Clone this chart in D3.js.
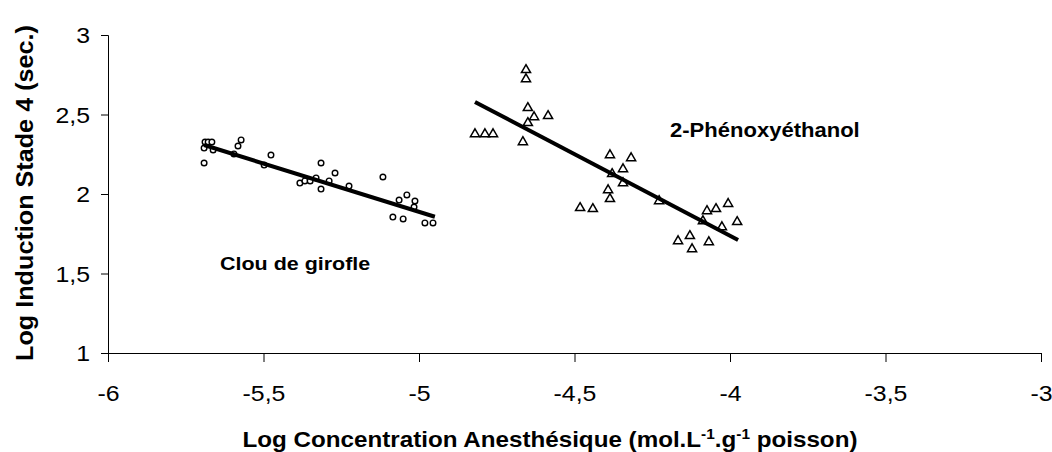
<html>
<head>
  <meta charset="utf-8">
  <title>Log induction vs log concentration</title>
  <script src="https://d3js.org/d3.v7.min.js"></script>
  <style>
    body { margin: 0; background: #fff; }
    text { font-family: "Liberation Sans", Arial, sans-serif; fill: #000; }
  </style>
</head>
<body>
<script>

// Clou de girofle (circles)
var clouX = [-5.688, -5.678, -5.666, -5.691, -5.662, -5.691, -5.572, -5.582, -5.595, -5.476,
             -5.498, -5.383, -5.367, -5.350, -5.331, -5.315, -5.315, -5.289, -5.270, -5.225,
             -5.116, -5.064, -5.039, -5.013, -5.016, -5.084, -5.051, -4.981, -4.955];
var clouY = [2.327, 2.327, 2.327, 2.289, 2.277, 2.195, 2.340, 2.302, 2.252, 2.245,
             2.182, 2.069, 2.082, 2.082, 2.101, 2.195, 2.031, 2.082, 2.132, 2.050,
             2.107, 1.962, 1.994, 1.956, 1.918, 1.855, 1.843, 1.818, 1.818];
var clouFitX = [-5.691, -4.949];
var clouFitY = [2.308, 1.857];

// 2-Phénoxyéthanol (triangles)
var phenX = [-4.656, -4.656, -4.650, -4.630, -4.585, -4.650, -4.820, -4.788, -4.762, -4.666,
             -4.386, -4.318, -4.344, -4.379, -4.344, -4.392, -4.386, -4.482, -4.441, -4.228,
             -4.074, -4.045, -4.006, -3.977, -4.087, -4.026, -4.167, -4.129, -4.122, -4.068];
var phenY = [2.780, 2.723, 2.541, 2.484, 2.491, 2.447, 2.377, 2.377, 2.377, 2.327,
             2.245, 2.226, 2.157, 2.126, 2.069, 2.025, 1.969, 1.912, 1.906, 1.956,
             1.893, 1.906, 1.938, 1.824, 1.830, 1.792, 1.704, 1.736, 1.654, 1.698];
var phenFitX = [-4.820, -3.974];
var phenFitY = [2.579, 1.711];

var xTicks = [-6, -5.5, -5, -4.5, -4, -3.5, -3];
var yTicks = [1, 1.5, 2, 2.5, 3];

var width = 1052,
    height = 452;

var stretch = 1.13;  // text in the picture is a bit wide

var x = d3.scaleLinear().domain([-6, -3]).range([108, 1041]),
    y = d3.scaleLinear().domain([1, 3]).range([353, 35]);

var comma = function(d) { return String(d).replace(".", ","); };

var svg = d3.select("body")
  .append("svg")
  .attr("width", width)
  .attr("height", height);

// axes
var xAxis = svg.append("g")
  .attr("transform", "translate(0," + y(1) + ")")
  .call(d3.axisBottom(x).tickValues(xTicks).tickSize(9).tickPadding(23).tickFormat(comma));

var yAxis = svg.append("g")
  .attr("transform", "translate(" + x(-6) + ",0)")
  .call(d3.axisLeft(y).tickValues(yTicks).tickSize(7).tickPadding(11).tickFormat(comma));

[xAxis, yAxis].forEach(function(a) {
  a.select(".domain").attr("stroke", "#000").attr("stroke-width", 1);
  a.selectAll(".tick line").attr("stroke", "#000");
  a.selectAll(".tick text")
    .style("font-family", "'Liberation Sans', Arial, sans-serif")
    .style("font-size", "22px")
    .attr("fill", "#000");
});
xAxis.selectAll(".tick text")
  .attr("transform", "translate(0,32) scale(" + stretch + ",1)")
  .attr("y", 0);
yAxis.selectAll(".tick text")
  .attr("x", 0)
  .attr("dy", "0.36em")
  .attr("transform", "translate(-18,0) scale(" + stretch + ",1)");

// points
svg.append("g").selectAll("circle")
  .data(d3.range(clouX.length))
  .enter()
  .append("circle")
  .attr("cx", function(i) { return x(clouX[i]); })
  .attr("cy", function(i) { return y(clouY[i]); })
  .attr("r", 2.8)
  .attr("fill", "#fff")
  .attr("stroke", "#000")
  .attr("stroke-width", 1.4);

var tri = d3.symbol().type(d3.symbolTriangle).size(36);

svg.append("g").selectAll("path")
  .data(d3.range(phenX.length))
  .enter()
  .append("path")
  .attr("d", tri)
  .attr("transform", function(i) { return "translate(" + x(phenX[i]) + "," + y(phenY[i]) + ")"; })
  .attr("fill", "#fff")
  .attr("stroke", "#000")
  .attr("stroke-width", 1.5);

// trend lines
var line = d3.line()
  .x(function(d) { return x(d[0]); })
  .y(function(d) { return y(d[1]); });

[[clouFitX, clouFitY], [phenFitX, phenFitY]].forEach(function(f) {
  svg.append("path")
    .attr("d", line(d3.zip(f[0], f[1])))
    .attr("fill", "none")
    .attr("stroke", "#000")
    .attr("stroke-width", 4);
});

// series labels
svg.append("text")
  .attr("transform", "translate(220,270) scale(" + stretch + ",1)")
  .style("font-size", "19px")
  .style("font-weight", "bold")
  .text("Clou de girofle");

svg.append("text")
  .attr("transform", "translate(670,137) scale(" + stretch + ",1)")
  .style("font-size", "19.5px")
  .style("font-weight", "bold")
  .text("2-Phénoxyéthanol");

// axis titles
var xt = svg.append("text")
  .attr("transform", "translate(550,447) scale(1.1,1)")
  .attr("text-anchor", "middle")
  .style("font-size", "22px")
  .style("font-weight", "bold");
xt.append("tspan").text("Log Concentration Anesthésique (mol.L");
xt.append("tspan").attr("dy", -8).style("font-size", "14px").text("-1");
xt.append("tspan").attr("dy", 8).text(".g");
xt.append("tspan").attr("dy", -8).style("font-size", "14px").text("-1");
xt.append("tspan").attr("dy", 8).text(" poisson)");

svg.append("text")
  .attr("transform", "translate(33,193) rotate(-90) scale(1.05,1)")
  .attr("text-anchor", "middle")
  .style("font-size", "24px")
  .style("font-weight", "bold")
  .text("Log Induction Stade 4  (sec.)");

</script>
</body>
</html>
